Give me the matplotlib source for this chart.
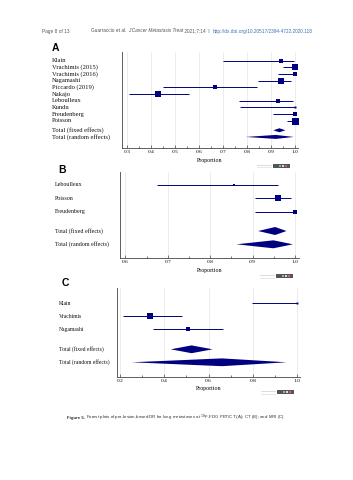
import numpy as np
import matplotlib
matplotlib.use("Agg")
import matplotlib.pyplot as plt
from matplotlib.patches import Polygon, Rectangle
from matplotlib.ticker import MultipleLocator
from matplotlib.transforms import blended_transform_factory

W, H = 353, 480
NAVY = "#000080"
SERIF = "Liberation Serif"
SANS = "Liberation Sans"

# A: 18F-FDG PET/CT
a_names = ["Klain", "Vrachimis (2015)", "Vrachimis (2016)", "Nagamashi", "Piccardo (2019)",
           "Nakajo", "Leboulleux", "Kundu", "Freudenberg", "Poisson"]
a_prop = [0.94, 1.0, 1.0, 0.94, 0.667, 0.43, 0.93, 1.0, 1.0, 1.0]
a_low = [0.70, 0.95, 0.93, 0.845, 0.45, 0.31, 0.765, 0.77, 0.907, 0.965]
a_high = [0.995, 1.0, 1.0, 0.985, 0.843, 0.56, 0.99, 1.0, 1.0, 1.0]
a_weight = [4.3, 12.0, 9.6, 12.0, 4.3, 17.2, 7.7, 1.9, 7.7, 23.4]
a_fixed = [0.935, 0.91, 0.96]
a_random = [0.92, 0.795, 0.995]

# B: CT
b_names = ["Leboulleux", "Poisson", "Freudenberg"]
b_prop = [0.857, 0.961, 1.0]
b_low = [0.675, 0.906, 0.906]
b_high = [0.96, 0.99, 1.0]
b_weight = [12, 73, 15]
b_fixed = [0.953, 0.913, 0.98]
b_random = [0.949, 0.862, 0.995]

# C: MRI
c_names = ["Klain", "Vrachimis", "Nagamashi"]
c_prop = [1.0, 0.335, 0.505]
c_low = [0.796, 0.212, 0.348]
c_high = [1.0, 0.478, 0.664]
c_weight = [5.4, 60.8, 33.8]
c_fixed = [0.523, 0.429, 0.618]
c_random = [0.66, 0.253, 0.952]

fig = plt.figure(figsize=(W / 100, H / 100), dpi=100)
renderer = fig.canvas.get_renderer()


def px_axes(x0, y0, x1, y1):
    return fig.add_axes([x0 / W, 1 - y1 / H, (x1 - x0) / W, (y1 - y0) / H])


def logo(x, y):
    # small grey software badge under each plot
    fig.patches.append(Rectangle((x / W, 1 - (y + 2) / H), 17 / W, 4 / H,
                                 transform=fig.transFigure, color="#555555", lw=0))
    for dx, c in zip([6, 9, 12], ["#9ab", "#cde", "#c66"]):
        fig.patches.append(Rectangle(((x + dx) / W, 1 - (y + 1) / H), 1.5 / W, 2 / H,
                                     transform=fig.transFigure, color=c, lw=0))
    fig.lines.append(plt.Line2D([(x - 16) / W, (x - 2) / W], [1 - (y - 1) / H] * 2,
                                transform=fig.transFigure, color="#cccccc", lw=0.5))
    fig.lines.append(plt.Line2D([(x - 16) / W, (x - 2) / W], [1 - (y + 1.5) / H] * 2,
                                transform=fig.transFigure, color="#dddddd", lw=0.5))


def forest(box, names, prop, low, high, weight, fixed, rand, xlim, step, gap, ylim,
           label_x, fs, tfs, max_px):
    ax = px_axes(*box)
    n = len(names)
    ys = np.arange(n)
    yf, yr = n - 1 + 1 + gap, n - 1 + 2 + gap
    ax.hlines(ys, low, high, color=NAVY, lw=0.7)
    w = np.array(weight, dtype=float)
    sides = max_px * np.sqrt(w / w.max())
    for x, y, s in zip(prop, ys, sides):
        ax.plot(x, y, "s", color=NAVY, ms=s * 0.72, mew=0)
    for (est, lo, hi), y in [(fixed, yf), (rand, yr)]:
        ax.add_patch(Polygon([(lo, y), (est, y - 0.3), (hi, y), (est, y + 0.3)],
                             closed=True, color=NAVY, lw=0))
    ax.set_xlim(*xlim)
    ax.set_ylim(*ylim)
    ax.xaxis.set_major_locator(MultipleLocator(step))
    ax.xaxis.set_minor_locator(MultipleLocator(step / 2))
    ax.xaxis.set_major_formatter(plt.FuncFormatter(lambda v, p: f"{v:.1f}"))
    ax.set_yticks([])
    ax.grid(axis="x", which="major", color="#e4e4e4", lw=0.5)
    ax.set_axisbelow(True)
    for s in ["top", "right"]:
        ax.spines[s].set_visible(False)
    for s in ["left", "bottom"]:
        ax.spines[s].set_color("#444444")
        ax.spines[s].set_linewidth(0.6)
    ax.tick_params(axis="x", which="both", direction="in", length=2, width=0.5,
                   color="#444444", pad=1.5, labelsize=tfs, labelfontfamily=SERIF)
    ax.tick_params(axis="x", which="minor", length=1.2)
    ax.set_xlabel("Proportion", family=SERIF, fontsize=tfs + 0.3, labelpad=2.5)
    tr = blended_transform_factory(fig.transFigure, ax.transData)
    labels = names + ["Total (fixed effects)", "Total (random effects)"]
    for lab, y in zip(labels, list(ys) + [yf, yr]):
        ax.text(label_x / W, y, lab, transform=tr, family=SERIF, fontsize=fs,
                va="center", ha="left", color="#111111")
    return ax


def text_run(x, y, parts, size):
    # lay out consecutive text pieces one after another (x in pixels)
    for s, kw in parts:
        t = fig.text(x / W, 1 - y / H, s, family=SANS, fontsize=size, va="center", **kw)
        x += t.get_window_extent(renderer).width
    return x


forest((121.7, 51.7, 298, 148), a_names, a_prop, a_low, a_high, a_weight, a_fixed,
       a_random, (0.279, 1.0125), 0.1, 0.43, (13.09, -1.35), 51.7, 4.7, 3.9, 7)
forest((120, 171.7, 299.3, 258), b_names, b_prop, b_low, b_high, b_weight, b_fixed,
       b_random, (0.5875, 1.0101), 0.1, 0.46, (5.49, -1.0), 55, 4.3, 3.9, 6.7)
forest((117.3, 288, 300, 376.7), c_names, c_prop, c_low, c_high, c_weight, c_fixed,
       c_random, (0.188, 1.0123), 0.2, 0.54, (5.65, -1.18), 59.3, 4.1, 3.9, 6.5)

logo(273, 166)
logo(276, 276)
logo(277, 392)

# panel letters
for x, y, t in [(52, 48, "A"), (58, 170, "B"), (61.7, 283, "C")]:
    fig.text(x / W, 1 - y / H, t, family=SANS, fontsize=7.5, fontweight="bold",
             va="center", ha="left")

# running header
grey = "#555555"
fig.text(41.7 / W, 1 - 31 / H, "Page 8 of 13", family=SANS, fontsize=3.4, color=grey,
         va="center")
text_run(90.7, 31, [("Guarraccio et al. ", dict(color=grey)),
                    ("J Cancer Metastasis Treat", dict(color=grey, style="italic")),
                    (" 2021;7:14  I  ", dict(color=grey)),
                    ("http://dx.doi.org/10.20517/2394-4722.2020.118", dict(color="#3a6fb0"))],
         3.4)

# caption
text_run(66.7, 418, [("Figure 5. ", dict(color="#333333", fontweight="bold")),
                     ("Forest plots of per-lesion-based DR for lung metastases at "
                      r"$^{18}$F-FDG PET/CT (A); CT (B); and MRI (C)",
                      dict(color="#333333"))], 3.2)

fig.savefig("out.png", dpi=100, facecolor="white")
